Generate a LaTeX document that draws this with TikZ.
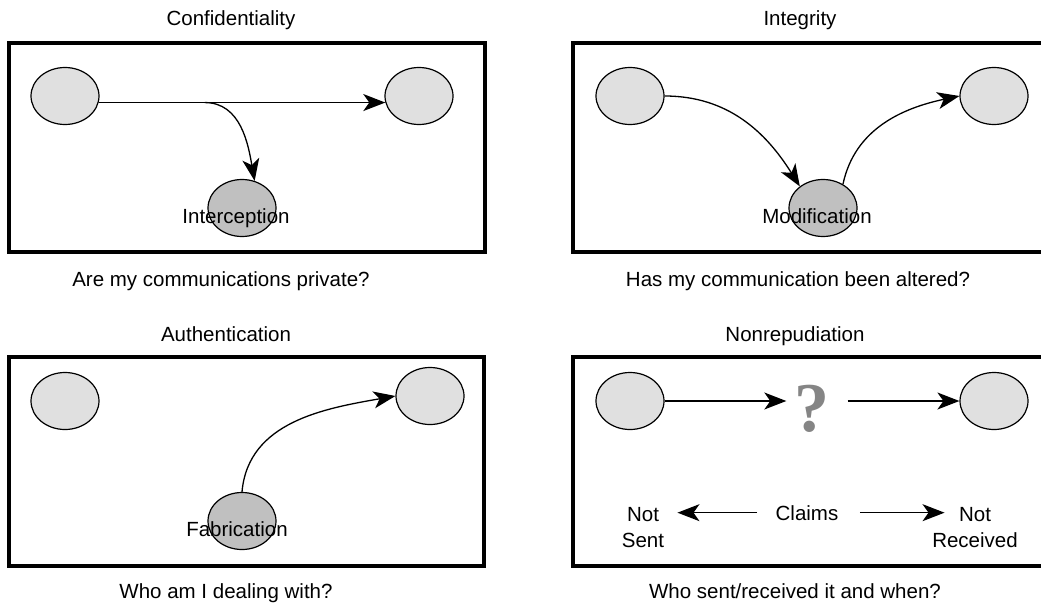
\documentclass[tikz,border=0pt]{standalone}
\usepackage{fontspec}
\setmainfont{Liberation Sans}
\newfontfamily\qmarkfont{Liberation Serif}
\usetikzlibrary{arrows.meta,calc,shapes.geometric}
\definecolor{hostgray}{HTML}{E0E0E0}
\definecolor{attackgray}{HTML}{C0C0C0}
\definecolor{qgray}{HTML}{858585}
\tikzset{
    host/.style={ellipse, draw, line width=1.2pt, fill=hostgray,
        minimum width=68pt, minimum height=57pt, inner sep=0pt},
    attacker/.style={host, fill=attackgray},
    frame/.style={line width=4.5pt},
    flow/.style={line width=1.3pt, -{Stealth[length=22pt,width=17pt,inset=6pt]}},
    txt/.style={font=\fontsize{20.5}{26}\selectfont, anchor=base},
    qmark/.style={anchor=base, inner sep=0pt, text=qgray,
        font=\qmarkfont\bfseries\fontsize{70}{70}\selectfont}
}
\begin{document}
\begin{tikzpicture}[x=1pt, y=1pt]
    \useasboundingbox (0,0) rectangle (1041,-605);
    \draw[frame] (9,-43) rectangle (485,-252);
    \draw[frame] (1041,-43) -| (573,-252) -- (1041,-252);
    \draw[frame] (9,-357) rectangle (484,-566);
    \draw[frame] (1041,-357) -| (573,-566) -- (1041,-566);
    \foreach \name/\x/\y in {a1/65/-96, b1/419/-96, a2/630/-96, b2/994/-96,
                             a3/65/-401, b3/430/-396, a4/630/-401, b4/994/-401}
        \node[host] (\name) at (\x,\y) {};
    \node[attacker] (i1) at (242,-208) {};
    \node[attacker] (m2) at (823,-208) {};
    \node[attacker] (f3) at (242,-521) {};
    % confidentiality
    \draw[flow] (a1.-11) -- (b1.191);
    \coordinate (tap) at ($(a1.-11)!0.37!(b1.191)$);
    \draw[flow] (tap) to[out=0, in=100] (i1.65);
    % integrity
    \draw[flow] (a2.east) to[out=0, in=122] (m2.137);
    \draw[flow] (m2.50) to[out=78, in=192] (b2.west);
    % authentication
    \draw[flow] (f3.north) to[out=85, in=190] (b3.west);
    % nonrepudiation
    \node[qmark] (q4) at (812,-431) {?};
    \draw[flow, shorten >=8pt] (a4.east) -- (a4.east -| q4.west);
    \draw[flow, shorten <=18pt] (q4.east |- b4.west) -- (b4.west);
    \node[txt] (claims) at (807,-520) {Claims};
    \node[txt] (notS) at (643,-521) {Not};
    \node[txt] (sent) at (643,-547) {Sent};
    \node[txt] (notR) at (975,-521) {Not};
    \node[txt] (recv) at (975,-547) {Received};
    \draw[flow, shorten <=15pt, shorten >=15pt] (claims.west) -- (claims.west -| notS.east);
    \draw[flow, shorten <=18pt, shorten >=11pt] (claims.east) -- (claims.east -| notR.west);
    \node[txt] (lInt) at (236,-223) {Interception};
    \node[txt] (lMod) at (817,-223) {Modification};
    \node[txt] (lFab) at (237,-536) {Fabrication};
    \node[txt] (tConf) at (231,-25) {Confidentiality};
    \node[txt] (tInt) at (800,-25) {Integrity};
    \node[txt] (tAuth) at (226,-341) {Authentication};
    \node[txt] (tNon) at (795,-341) {Nonrepudiation};
    \node[txt] (cConf) at (221,-286) {Are my communications private?};
    \node[txt] (cInt) at (798,-286) {Has my communication been altered?};
    \node[txt] (cAuth) at (226,-598) {Who am I dealing with?};
    \node[txt] (cNon) at (795,-598) {Who sent/received it and when?};
\end{tikzpicture}
\end{document}
